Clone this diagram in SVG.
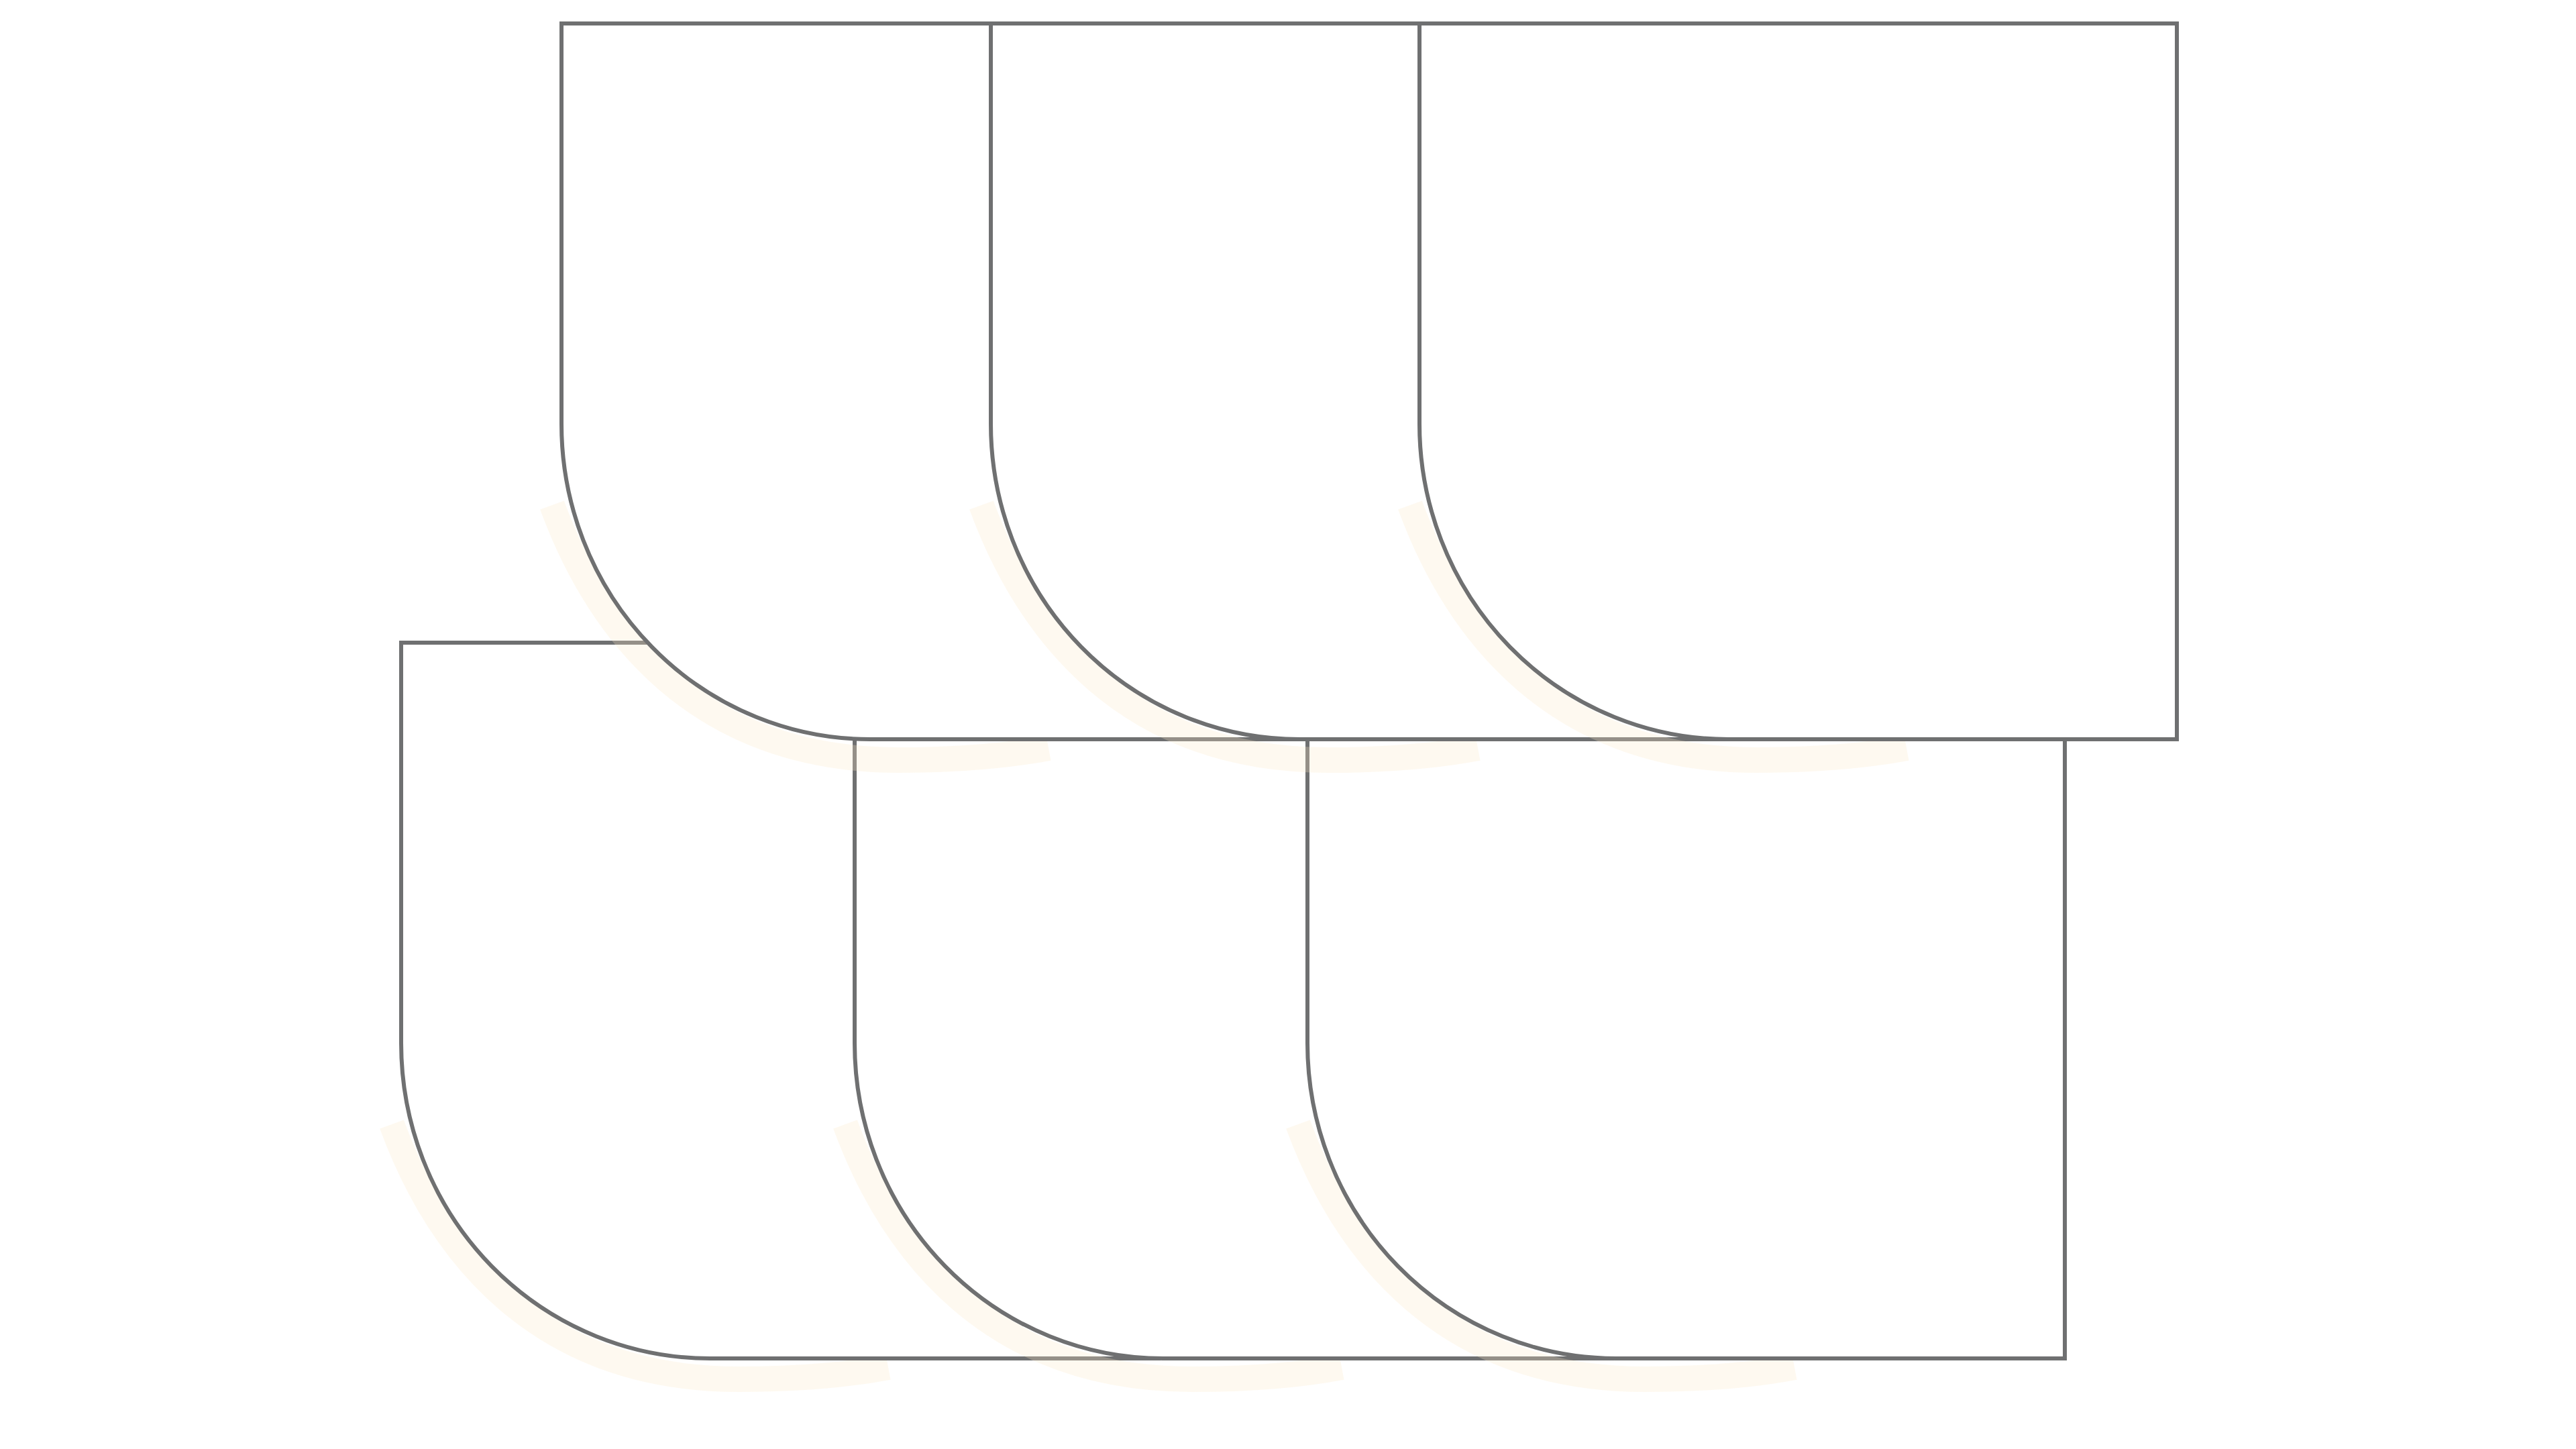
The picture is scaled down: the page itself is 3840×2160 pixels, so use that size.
<svg xmlns="http://www.w3.org/2000/svg" xmlns:xlink="http://www.w3.org/1999/xlink" width="3840" height="2160" viewBox="0 0 3840 2160">
<style>
.shape{fill:#FFFFFF;stroke:#6F7071;stroke-width:6;stroke-linejoin:miter}
.shadow{fill:none;stroke:#FBE9C8;stroke-opacity:0.27;stroke-width:38;stroke-linecap:butt}
</style>
<defs>
<path id="card" class="shape" d="M0,0 H1129 V1067 H460 A460 470 0 0 1 0,597 Z"/>
<path id="glow" class="shadow" d="M-14,718 C56,908 203,1098 503,1098 C603,1098 673,1090 726,1080"/>
</defs>
<rect x="0" y="0" width="3840" height="2160" fill="#FFFFFF"/>
<g id="connectors"></g>
<g id="node-b1" transform="translate(598,958)"><use href="#glow" xlink:href="#glow"/><use href="#card" xlink:href="#card"/></g>
<g id="node-b2" transform="translate(1274,958)"><use href="#glow" xlink:href="#glow"/><use href="#card" xlink:href="#card"/></g>
<g id="node-b3" transform="translate(1949,958)"><use href="#glow" xlink:href="#glow"/><use href="#card" xlink:href="#card"/></g>
<g id="node-t1" transform="translate(837,35)"><use href="#glow" xlink:href="#glow"/><use href="#card" xlink:href="#card"/></g>
<g id="node-t2" transform="translate(1477,35)"><use href="#glow" xlink:href="#glow"/><use href="#card" xlink:href="#card"/></g>
<g id="node-t3" transform="translate(2116,35)"><use href="#glow" xlink:href="#glow"/><use href="#card" xlink:href="#card"/></g>
</svg>
